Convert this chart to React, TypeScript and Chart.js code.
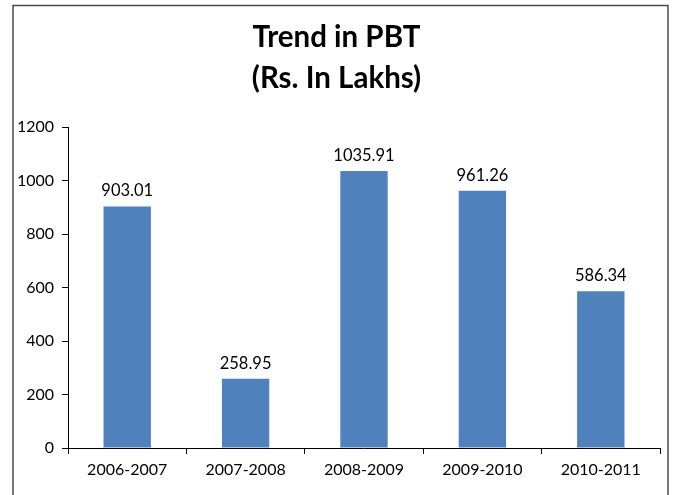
import React, { useEffect, useRef } from "react";
import { Chart, registerables } from "chart.js";

Chart.register(...registerables);

const categories = ["2006-2007", "2007-2008", "2008-2009", "2009-2010", "2010-2011"];
const pbtValues = [903.01, 258.95, 1035.91, 961.26, 586.34];
const titleLines = ["Trend in PBT", "(Rs. In Lakhs)"];
const yMin = 0;
const yMax = 1200;
const yStep = 200;

const FONT = "Lato, 'Noto Sans', sans-serif";

const framePlugin = {
  id: "frame",
  beforeDraw(chart: any) {
    const ctx = chart.ctx;
    ctx.save();
    ctx.fillStyle = "#ffffff";
    ctx.fillRect(0, 0, chart.width, chart.height);
    ctx.strokeStyle = "#4a4a4a";
    ctx.lineWidth = 1.5;
    ctx.strokeRect(13, 5.5, 655, 600);
    ctx.restore();
  },
};

const valueLabelPlugin = {
  id: "valueLabels",
  afterDatasetsDraw(chart: any) {
    const ctx = chart.ctx;
    ctx.save();
    ctx.font = `16.5px ${FONT}`;
    ctx.fillStyle = "#000000";
    ctx.textAlign = "center";
    ctx.textBaseline = "alphabetic";
    chart.data.datasets.forEach((ds: any, di: number) => {
      const meta = chart.getDatasetMeta(di);
      meta.data.forEach((el: any, i: number) => {
        const v = ds.data[i] as number;
        ctx.fillText(v.toFixed(2), el.x, el.y - 10);
      });
    });
    ctx.restore();
  },
};

export default function App() {
  const canvasRef = useRef<HTMLCanvasElement | null>(null);

  useEffect(() => {
    if (!canvasRef.current) return;
    const chart = new Chart(canvasRef.current, {
      type: "bar",
      data: {
        labels: categories,
        datasets: [
          {
            label: "PBT",
            data: pbtValues,
            backgroundColor: "#4F81BD",
            borderWidth: 0,
            categoryPercentage: 0.4,
            barPercentage: 1.0,
          },
        ],
      },
      options: {
        animation: false,
        responsive: false,
        maintainAspectRatio: false,
        devicePixelRatio: 1,
        layout: { padding: { left: 13, right: 15, top: 0, bottom: 0 } },
        plugins: {
          legend: { display: false },
          tooltip: { enabled: false },
          title: {
            display: true,
            text: titleLines,
            color: "#000000",
            font: { family: FONT, size: 29.5, weight: "bold", lineHeight: "41px" } as any,
            padding: { top: 16.5, bottom: 28.5 },
          },
        },
        scales: {
          x: {
            offset: true,
            grid: {
              display: true,
              offset: true,
              drawOnChartArea: false,
              drawTicks: true,
              tickLength: 6,
              color: "#000000",
            },
            border: { display: true, color: "#000000", width: 1 },
            ticks: {
              color: "#000000",
              font: { family: FONT, size: 16 },
              padding: 6,
              maxRotation: 0,
            },
            afterFit(scale: any) {
              scale.height = 47;
            },
          },
          y: {
            min: yMin,
            max: yMax,
            grid: {
              display: true,
              drawOnChartArea: false,
              drawTicks: true,
              tickLength: 6,
              color: "#000000",
            },
            border: { display: true, color: "#000000", width: 1 },
            ticks: {
              stepSize: yStep,
              color: "#000000",
              font: { family: FONT, size: 16 },
              padding: 8,
              callback: (v: any) => String(v),
            },
            afterFit(scale: any) {
              scale.width = 55;
            },
          },
        },
      },
      plugins: [framePlugin, valueLabelPlugin],
    });
    return () => chart.destroy();
  }, []);

  return (
    <div style={{ position: "fixed", left: 0, top: 0, width: 675, height: 495, background: "#fff" }}>
      <canvas ref={canvasRef} width={675} height={495} style={{ width: 675, height: 495, display: "block" }} />
    </div>
  );
}
